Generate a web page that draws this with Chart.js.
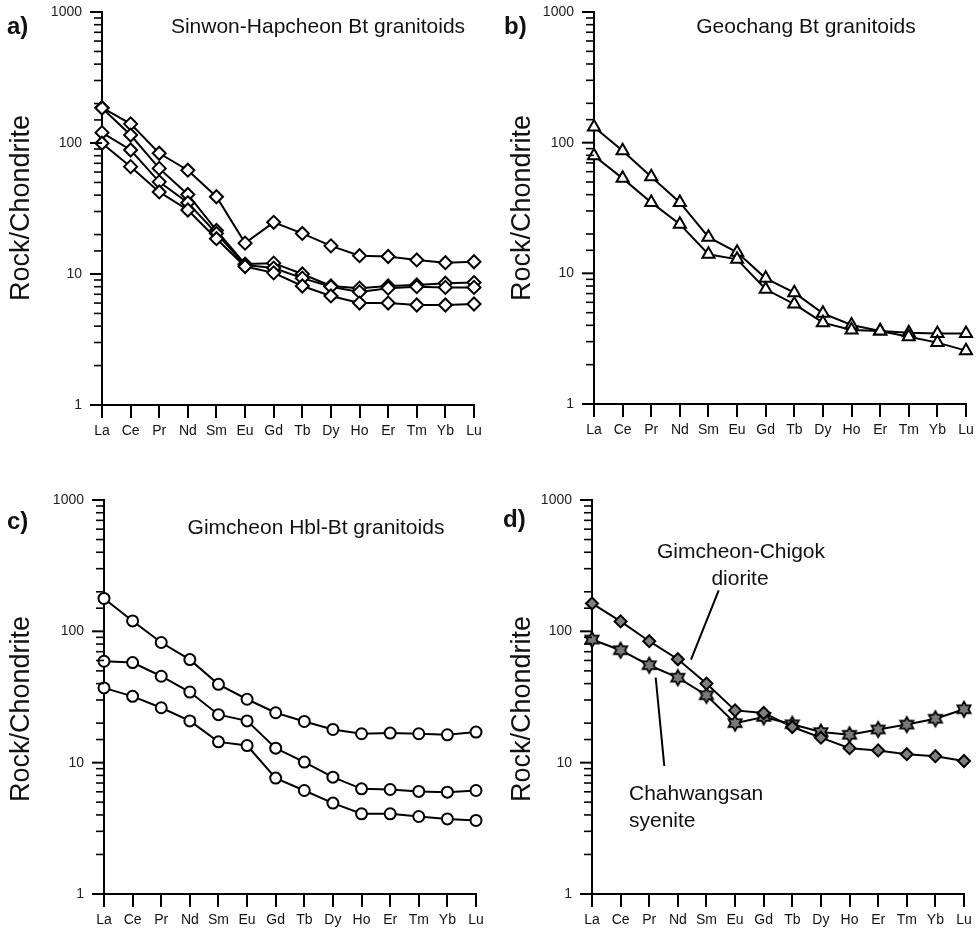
<!DOCTYPE html>
<html>
<head>
<meta charset="utf-8">
<script src="https://cdn.jsdelivr.net/npm/chart.js@4/dist/chart.umd.min.js"></script>
<style>
  body { margin: 0; background: #fff; }
  #wrap { position: relative; width: 980px; height: 934px; }
  canvas { position: absolute; }
</style>
</head>
<body>
<div id="wrap">
  <canvas id="pa" width="490" height="467" style="left:0;top:0"></canvas>
  <canvas id="pb" width="490" height="467" style="left:490px;top:0"></canvas>
  <canvas id="pc" width="490" height="467" style="left:0;top:467px"></canvas>
  <canvas id="pd" width="490" height="467" style="left:490px;top:467px"></canvas>
</div>
<script>
// --- data ---
const ree = ['La', 'Ce', 'Pr', 'Nd', 'Sm', 'Eu', 'Gd', 'Tb', 'Dy', 'Ho', 'Er', 'Tm', 'Yb', 'Lu'];
const yTickLabels = [1, 10, 100, 1000];

// a) Sinwon-Hapcheon Bt granitoids
const sinwon1 = [186, 140, 83.5, 62, 38.9, 17.2, 24.8, 20.4, 16.4, 13.8, 13.6, 12.8, 12.2, 12.4];
const sinwon2 = [185, 115, 64, 40.5, 21.5, 11.9, 12.1, 10.0, 8.1, 7.8, 8.1, 8.25, 8.5, 8.6];
const sinwon3 = [120, 88.4, 50.5, 35, 20.4, 11.7, 11.1, 9.3, 8.0, 7.3, 7.8, 8.0, 7.9, 7.9];
const sinwon4 = [99.5, 66, 42.3, 30.8, 18.6, 11.4, 10.2, 8.1, 6.8, 6.0, 6.0, 5.8, 5.8, 5.9];

// b) Geochang Bt granitoids
const geochang1 = [132, 86.7, 54.9, 34.9, 18.9, 14.5, 9.16, 7.11, 4.94, 4.02, 3.62, 3.51, 3.47, 3.47];
const geochang2 = [79.4, 53.3, 34.9, 23.8, 14.0, 12.8, 7.55, 5.82, 4.19, 3.68, 3.62, 3.27, 2.95, 2.56];

// c) Gimcheon Hbl-Bt granitoids
const gimcheon1 = [178, 120, 82.2, 60.9, 39.5, 30.4, 24.0, 20.6, 17.9, 16.6, 16.8, 16.6, 16.3, 17.1];
const gimcheon2 = [59.2, 57.8, 45.5, 34.5, 23.2, 20.8, 12.9, 10.1, 7.76, 6.32, 6.25, 6.04, 5.96, 6.14];
const gimcheon3 = [37.1, 32.0, 26.2, 20.8, 14.4, 13.5, 7.63, 6.14, 4.92, 4.08, 4.08, 3.89, 3.73, 3.63];

// d) diorite + syenite
const diorite = [163, 119, 84.1, 61.3, 40.0, 25.0, 23.9, 18.7, 15.5, 12.9, 12.4, 11.6, 11.2, 10.3];
const syenite = [86.6, 71.8, 55.2, 44.4, 32.6, 20.0, 22.3, 19.6, 17.1, 16.3, 17.9, 19.5, 21.6, 25.5];

const FONT = '"Liberation Sans", Arial, sans-serif';
const INK = '#111';

// gray six-pointed star marker
function makeStar() {
    const c = document.createElement('canvas');
    c.width = 20; c.height = 20;
    const g = c.getContext('2d');
    const R = 7.6, r = R / Math.sqrt(3);
    g.beginPath();
    for (let k = 0; k < 12; k++) {
        const a = -Math.PI / 2 + k * Math.PI / 6;
        const rr = k % 2 === 0 ? R : r;
        const px = 10 + rr * Math.cos(a), py = 10 + rr * Math.sin(a);
        if (k === 0) g.moveTo(px, py); else g.lineTo(px, py);
    }
    g.closePath();
    g.fillStyle = '#7a7a7a';
    g.fill();
    g.lineWidth = 1.8;
    g.strokeStyle = '#000';
    g.lineJoin = 'miter';
    g.stroke();
    return c;
}

function series(data, style, radius, fill) {
    return {
        data: data,
        borderColor: '#000',
        borderWidth: 2,
        tension: 0,
        clip: false,
        pointStyle: style,
        pointRadius: radius,
        pointBackgroundColor: fill || '#fff',
        pointBorderColor: '#000',
        pointBorderWidth: 2
    };
}

// axis ticks on y + texts
const decor = {
    id: 'decor',
    afterDraw(chart, args, o) {
        const ctx = chart.ctx;
        const y = chart.scales.y;
        const left = chart.chartArea.left;
        ctx.save();
        ctx.strokeStyle = '#000';
        y.ticks.forEach(t => {
            const major = yTickLabels.includes(t.value);
            const py = y.getPixelForValue(t.value);
            ctx.lineWidth = major ? 2 : 1.6;
            ctx.beginPath();
            ctx.moveTo(left - (major ? 12 : 8), py);
            ctx.lineTo(left, py);
            ctx.stroke();
        });

        ctx.fillStyle = INK;
        ctx.textBaseline = 'middle';

        // panel letter
        ctx.font = 'bold 24px ' + FONT;
        ctx.textAlign = 'left';
        ctx.fillText(o.letter, o.letterX, o.letterY);

        // titles
        ctx.font = '21px ' + FONT;
        (o.texts || []).forEach(t => {
            ctx.textAlign = t.align || 'center';
            ctx.fillText(t.text, t.x, t.y);
        });

        // leader lines
        ctx.lineWidth = 2;
        (o.lines || []).forEach(l => {
            ctx.beginPath();
            ctx.moveTo(l[0], l[1]);
            ctx.lineTo(l[2], l[3]);
            ctx.stroke();
        });

        // y title
        ctx.font = '27px ' + FONT;
        ctx.textAlign = 'center';
        ctx.translate(o.ytX, o.ytY);
        ctx.rotate(-Math.PI / 2);
        ctx.fillText('Rock/Chondrite', 0, 0);
        ctx.restore();
    }
};

function makePanel(id, datasets, area, deco) {
    new Chart(document.getElementById(id), {
        type: 'line',
        data: { labels: ree, datasets: datasets },
        options: {
            responsive: false,
            animation: false,
            devicePixelRatio: 1,
            layout: { padding: { left: 0, top: area.top, right: 490 - area.right, bottom: 0 } },
            scales: {
                x: {
                    offset: false,
                    grid: { display: true, drawOnChartArea: false, drawTicks: true, tickLength: 13, color: '#000', lineWidth: 2 },
                    border: { display: true, color: '#000', width: 2 },
                    ticks: { autoSkip: false, maxRotation: 0, padding: 5, color: INK, font: { family: FONT, size: 14 } },
                    afterFit: s => {
                        s.height = 467 - area.bottom;
                        s.paddingLeft = 0;
                        s.paddingRight = 0;
                    }
                },
                y: {
                    type: 'logarithmic',
                    min: 1,
                    max: 1000,
                    grid: { display: true, drawOnChartArea: false, drawTicks: false },
                    border: { display: true, color: '#000', width: 2 },
                    ticks: {
                        autoSkip: false,
                        padding: 20,
                        color: '#222',
                        font: { family: FONT, size: 14 },
                        callback: v => yTickLabels.includes(v) ? String(v) : ''
                    },
                    afterFit: s => {
                        s.width = area.left;
                        s.paddingTop = 0;
                        s.paddingBottom = 0;
                    }
                }
            },
            plugins: {
                legend: { display: false },
                tooltip: { enabled: false },
                decor: deco
            }
        },
        plugins: [decor]
    });
}

makePanel('pa', [
    series(sinwon4, 'rectRot', 6.5),
    series(sinwon3, 'rectRot', 6.5),
    series(sinwon2, 'rectRot', 6.5),
    series(sinwon1, 'rectRot', 6.5)
], { left: 102, right: 474, top: 12, bottom: 405 }, {
    letter: 'a)', letterX: 7, letterY: 27,
    texts: [{ text: 'Sinwon-Hapcheon Bt granitoids', x: 318, y: 27 }],
    ytX: 22, ytY: 208
});

makePanel('pb', [
    series(geochang2, 'triangle', 7),
    series(geochang1, 'triangle', 7)
], { left: 104, right: 476, top: 12, bottom: 404 }, {
    letter: 'b)', letterX: 14, letterY: 27,
    texts: [{ text: 'Geochang Bt granitoids', x: 316, y: 27 }],
    ytX: 33, ytY: 208
});

makePanel('pc', [
    series(gimcheon3, 'circle', 5.5),
    series(gimcheon2, 'circle', 5.5),
    series(gimcheon1, 'circle', 5.5)
], { left: 104, right: 476, top: 33, bottom: 427 }, {
    letter: 'c)', letterX: 7, letterY: 55,
    texts: [{ text: 'Gimcheon Hbl-Bt granitoids', x: 316, y: 61 }],
    ytX: 22, ytY: 242
});

const star = makeStar();
makePanel('pd', [
    series(diorite, 'rectRot', 6, '#7f7f7f'),
    Object.assign(series(syenite, star, 8), { pointBorderWidth: 0 })
], { left: 102, right: 474, top: 33, bottom: 427 }, {
    letter: 'd)', letterX: 13, letterY: 53,
    texts: [
        { text: 'Gimcheon-Chigok', x: 251, y: 85 },
        { text: 'diorite', x: 250, y: 112 },
        { text: 'Chahwangsan', x: 139, y: 327, align: 'left' },
        { text: 'syenite', x: 139, y: 354, align: 'left' }
    ],
    lines: [[228.7, 123.3, 201, 192.7], [165.7, 210.7, 174.3, 299]],
    ytX: 33, ytY: 242
});
</script>
</body>
</html>
